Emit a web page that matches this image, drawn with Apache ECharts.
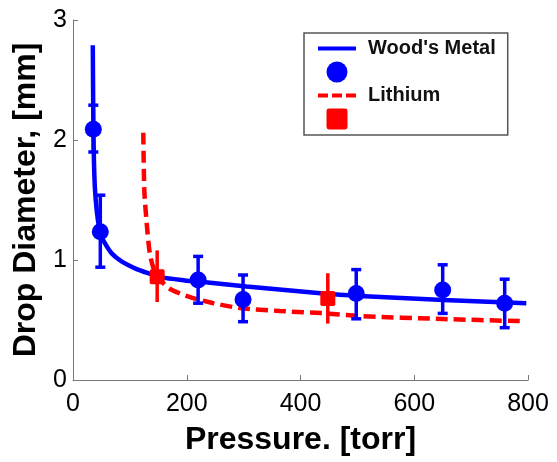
<!DOCTYPE html>
<html>
<head>
<meta charset="utf-8">
<script src="https://cdn.jsdelivr.net/npm/echarts@6/dist/echarts.min.js"></script>
<style>
  html, body { margin: 0; padding: 0; background: #fff; }
  #chart { width: 557px; height: 462px; }
</style>
</head>
<body>
<div id="chart"></div>
<script>
// measured points, Wood's metal
const woodP = [35.7, 48, 220, 299, 498, 650, 759];
const woodD = [2.09, 1.236, 0.833, 0.67, 0.72, 0.75, 0.64];
const woodLow = [1.9, 0.94, 0.64, 0.486, 0.51, 0.555, 0.436];
const woodHigh = [2.29, 1.54, 1.03, 0.875, 0.92, 0.96, 0.84];

// measured points, lithium
const lithP = [148, 448];
const lithD = [0.86, 0.68];
const lithLow = [0.65, 0.47];
const lithHigh = [1.08, 0.89];

// fitted curves
const woodFitP = [34.8, 35.5, 36.5, 38.5, 42, 46, 50, 56, 68, 86, 109, 132, 156, 197, 220, 305, 440, 504, 651, 797];
const woodFitD = [2.79, 2.3, 1.9, 1.6, 1.4, 1.27, 1.2, 1.14, 1.055, 0.986, 0.93, 0.89, 0.855, 0.83, 0.82, 0.78, 0.72, 0.7, 0.667, 0.64];
const lithFitP = [123.6, 125.4, 129.5, 135, 141, 147, 150, 170, 206, 247, 293, 364, 446, 504, 651, 791];
const lithFitD = [2.06, 1.58, 1.31, 1.055, 0.94, 0.875, 0.85, 0.76, 0.69, 0.64, 0.6, 0.575, 0.555, 0.533, 0.508, 0.49];

const xTicks = [0, 200, 400, 600, 800];
const yTicks = [0, 1, 2, 3];

const BLUE = "#0000ff";
const RED = "#ff0000";
const FONT = "Liberation Sans";

const zip = (a, b) => a.map((v, i) => [v, b[i]]);
const zip3 = (a, b, c) => a.map((v, i) => [v, b[i], c[i]]);

// vertical error bar, optional caps
function errorBar(color, capHalf) {
  return function (params, api) {
    const x = api.value(0);
    const lo = api.coord([x, api.value(1)]);
    const hi = api.coord([x, api.value(2)]);
    const style = { stroke: color, lineWidth: 3.5 };
    const children = [
      { type: "line", shape: { x1: lo[0], y1: lo[1], x2: hi[0], y2: hi[1] }, style },
    ];
    if (capHalf) {
      children.push(
        { type: "line", shape: { x1: lo[0] - capHalf, y1: lo[1], x2: lo[0] + capHalf, y2: lo[1] }, style },
        { type: "line", shape: { x1: hi[0] - capHalf, y1: hi[1], x2: hi[0] + capHalf, y2: hi[1] }, style }
      );
    }
    return { type: "group", children };
  };
}

const noDot = { color: "rgba(0,0,0,0)", borderColor: "rgba(0,0,0,0)", borderWidth: 0 };
const squarePath = "path://M2,0H15Q17,0 17,2V15Q17,17 15,17H2Q0,17 0,15V2Q0,0 2,0Z";

const chart = echarts.init(document.getElementById("chart"));
chart.setOption({
  animation: false,
  backgroundColor: "#fff",
  textStyle: { fontFamily: FONT },
  grid: { left: 73, right: 29, top: 20, bottom: 82 },
  legend: {
    orient: "vertical",
    left: 304,
    top: 33,
    padding: [5.5, 12, 5.5, 12],
    itemWidth: 38,
    itemHeight: 21,
    itemGap: 3,
    borderColor: "#555",
    borderWidth: 1.5,
    selectedMode: false,
    data: [
      { name: "Wood's Metal", itemStyle: noDot, lineStyle: { width: 4 } },
      { name: "woodPts", icon: "circle" },
      { name: "Lithium", itemStyle: noDot, lineStyle: { width: 4, type: [10, 4] } },
      { name: "lithPts", icon: squarePath },
    ],
    formatter: (name) => (name === "woodPts" || name === "lithPts" ? "" : name),
    textStyle: {
      fontFamily: FONT,
      fontSize: 20,
      fontWeight: "bold",
      color: "#111",
      padding: [0, 0, 0, 7],
    },
  },
  xAxis: {
    type: "value",
    min: xTicks[0],
    max: xTicks[xTicks.length - 1],
    interval: 200,
    name: "Pressure. [torr]",
    nameLocation: "middle",
    nameGap: 44,
    nameTextStyle: { fontFamily: FONT, fontSize: 32, fontWeight: "bold", color: "#000" },
    axisLine: { lineStyle: { color: "#777", width: 1 } },
    axisTick: { inside: true, length: 5, lineStyle: { color: "#777" } },
    axisLabel: { fontFamily: FONT, fontSize: 25, color: "#000", margin: 12 },
    splitLine: { show: false },
  },
  yAxis: {
    type: "value",
    min: yTicks[0],
    max: yTicks[yTicks.length - 1],
    interval: 1,
    name: "Drop Diameter, [mm]",
    nameLocation: "middle",
    nameGap: 30,
    nameTextStyle: { fontFamily: FONT, fontSize: 32, fontWeight: "bold", color: "#000" },
    axisLine: { show: true, lineStyle: { color: "#777", width: 1 } },
    axisTick: { show: true, inside: true, length: 5, lineStyle: { color: "#777" } },
    axisLabel: { fontFamily: FONT, fontSize: 25, color: "#000", margin: 6 },
    splitLine: { show: false },
  },
  series: [
    {
      name: "Wood's Metal",
      type: "line",
      data: zip(woodFitP, woodFitD),
      smooth: 0.25,
      symbol: "none",
      showSymbol: false,
      color: BLUE,
      lineStyle: { color: BLUE, width: 4.5 },
      z: 2,
    },
    {
      name: "Lithium",
      type: "line",
      data: zip(lithFitP, lithFitD),
      smooth: 0.25,
      symbol: "none",
      showSymbol: false,
      color: RED,
      lineStyle: { color: RED, width: 4.5, type: [12, 6] },
      z: 2,
    },
    {
      name: "woodPts",
      type: "scatter",
      data: zip(woodP, woodD),
      symbol: "circle",
      symbolSize: 17,
      itemStyle: { color: BLUE, opacity: 1 },
      z: 3,
    },
    {
      type: "custom",
      data: zip3(woodP, woodLow, woodHigh),
      renderItem: errorBar(BLUE, 5),
      z: 3,
    },
    {
      name: "lithPts",
      type: "scatter",
      data: zip(lithP, lithD),
      symbol: squarePath,
      symbolSize: 15,
      itemStyle: { color: RED, opacity: 1 },
      z: 4,
    },
    {
      type: "custom",
      data: zip3(lithP, lithLow, lithHigh),
      renderItem: errorBar(RED, 0),
      z: 4,
    },
  ],
});
</script>
</body>
</html>
